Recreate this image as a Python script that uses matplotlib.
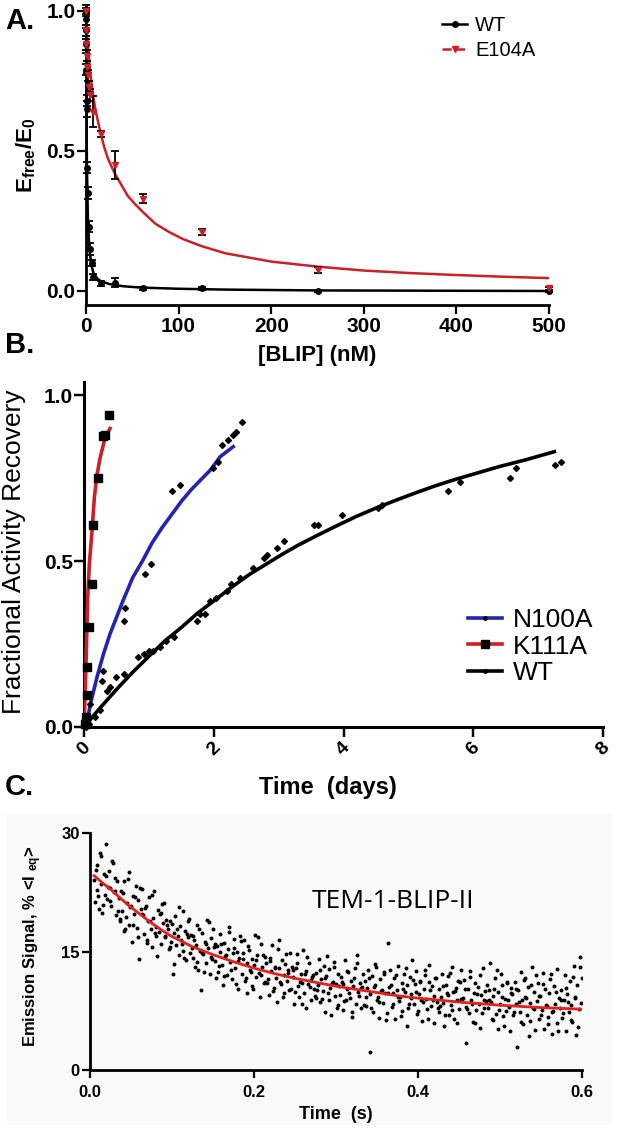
import matplotlib
matplotlib.use('Agg')
import matplotlib.pyplot as plt
from matplotlib.lines import Line2D
from matplotlib.patches import Rectangle

plt.rcParams['font.family'] = ['Liberation Sans', 'DejaVu Sans']
plt.rcParams['mathtext.fontset'] = 'custom'
plt.rcParams['mathtext.rm'] = 'Liberation Sans'
plt.rcParams['mathtext.bf'] = 'Liberation Sans:bold'
plt.rcParams['mathtext.it'] = 'Liberation Sans:italic'

# ---------------- Panel A data ----------------
A_xticks = [0, 100, 200, 300, 400, 500]
A_yticks = [0.0, 0.5, 1.0]
A_yticklabels = ['0.0', '0.5', '1.0']

WT_conc = [0, 0.1, 0.2, 0.3, 0.5, 0.75, 1, 1.5, 2, 3, 4, 6, 8, 16, 31, 62, 125, 250, 500]
WT_frac = [1.0, 0.97, 0.93, 0.88, 0.79, 0.68, 0.65, 0.44, 0.35, 0.23, 0.15, 0.10, 0.05,
           0.027, 0.03, 0.01, 0.01, 0.0, 0.0]
WT_err = [0.02, 0.03, 0.02, 0.03, 0.02, 0.02, 0.03, 0.02, 0.02, 0.02, 0.02, 0.01, 0.01,
          0.01, 0.015, 0.005, 0.005, 0.005, 0.005]
WT_fit_x = [0, 0.25, 0.5, 1, 1.5, 2, 3, 4, 6, 8, 12, 16, 25, 40, 60, 100, 150, 250, 500]
WT_fit_y = [1.0, 0.78, 0.62, 0.45, 0.35, 0.27, 0.19, 0.14, 0.09, 0.065, 0.045, 0.035,
            0.025, 0.017, 0.012, 0.008, 0.005, 0.002, 0.0]

E104A_conc = [0, 0.25, 0.5, 1, 1.5, 2, 3, 4, 8, 16, 31, 62, 125, 250, 500]
E104A_frac = [1.0, 0.93, 0.88, 0.84, 0.80, 0.77, 0.73, 0.70, 0.64, 0.56, 0.45, 0.33,
              0.21, 0.075, 0.01]
E104A_err = [0.01, 0.02, 0.02, 0.02, 0.02, 0.02, 0.02, 0.02, 0.055, 0.01, 0.05, 0.015,
             0.01, 0.01, 0.005]
E104A_fit_x = [0, 0.5, 1, 2, 3, 4, 5, 6, 8, 10, 12, 16, 20, 24, 31, 38, 45, 53, 62, 75,
               90, 105, 125, 150, 175, 200, 250, 300, 350, 400, 450, 500]
E104A_fit_y = [1.0, 0.96, 0.93, 0.88, 0.84, 0.80, 0.77, 0.74, 0.69, 0.65, 0.62, 0.56,
               0.51, 0.47, 0.42, 0.38, 0.34, 0.31, 0.28, 0.24, 0.21, 0.185, 0.16, 0.135,
               0.12, 0.105, 0.087, 0.073, 0.064, 0.057, 0.051, 0.046]

# ---------------- Panel B data ----------------
B_xticks = [0, 2, 4, 6, 8]
B_yticks = [0.0, 0.5, 1.0]
B_yticklabels = ['0.0', '0.5', '1.0']

K111A_t = [0.02, 0.03, 0.04, 0.04, 0.07, 0.12, 0.14, 0.21, 0.29, 0.33, 0.385]
K111A_y = [0.01, 0.03, 0.096, 0.18, 0.30, 0.43, 0.61, 0.75, 0.877, 0.88, 0.94]
K111A_fit_t = [0.0, 0.031, 0.057, 0.082, 0.123, 0.159, 0.195, 0.247, 0.314, 0.40]
K111A_fit_y = [0.0, 0.19, 0.39, 0.49, 0.59, 0.69, 0.754, 0.81, 0.864, 0.90]

N100A_t = [0.02, 0.05, 0.1, 0.27, 0.3, 0.61, 0.63, 0.94, 1.04, 1.35, 1.48, 1.99, 2.07,
           2.12, 2.22, 2.29, 2.35, 2.43]
N100A_y = [0.01, 0.016, 0.07, 0.14, 0.17, 0.32, 0.36, 0.46, 0.49, 0.71, 0.73, 0.78, 0.80,
           0.85, 0.865, 0.88, 0.89, 0.92]
N100A_fit_t = [0.05, 0.1, 0.15, 0.2, 0.3, 0.4, 0.5, 0.6, 0.75, 0.9, 1.05, 1.2, 1.35, 1.5,
               1.65, 1.8, 1.95, 2.1, 2.3]
N100A_fit_y = [0.02, 0.07, 0.11, 0.15, 0.22, 0.28, 0.33, 0.38, 0.45, 0.50, 0.555, 0.60,
               0.64, 0.68, 0.715, 0.745, 0.775, 0.815, 0.845]

WTB_t = [0.03, 0.08, 0.17, 0.25, 0.35, 0.4, 0.5, 0.61, 0.84, 0.92,
         1.0, 1.07, 1.17, 1.27, 1.38, 1.74, 1.79, 1.86, 1.94, 2.04,
         2.2, 2.27, 2.4, 2.61, 2.77, 2.82, 2.98, 3.08, 3.54, 3.6,
         3.97, 4.53, 4.6, 5.61, 5.79, 6.56, 6.66, 7.26, 7.36]
WTB_y = [0.0, 0.01, 0.03, 0.05, 0.11, 0.12, 0.15, 0.16, 0.21, 0.22,
         0.23, 0.23, 0.24, 0.26, 0.27, 0.32, 0.34, 0.34, 0.38, 0.39,
         0.41, 0.43, 0.45, 0.48, 0.51, 0.52, 0.54, 0.56, 0.61, 0.61,
         0.64, 0.66, 0.67, 0.71, 0.74, 0.75, 0.78, 0.79, 0.80]
WTB_fit_t = [0.0, 0.25, 0.5, 0.75, 1.0, 1.25, 1.5, 1.75, 2.0, 2.3, 2.55, 2.8, 3.05, 3.3,
             3.6, 3.9, 4.2, 4.5, 4.8, 5.1, 5.4, 5.7, 6.05, 6.4, 6.8, 7.25]
WTB_fit_y = [0.0, 0.058, 0.113, 0.165, 0.213, 0.26, 0.30, 0.343, 0.38, 0.425, 0.46, 0.49,
             0.52, 0.548, 0.578, 0.607, 0.635, 0.66, 0.683, 0.705, 0.726, 0.745, 0.765,
             0.785, 0.805, 0.83]

# ---------------- Panel C data ----------------
C_xticks = [0.0, 0.2, 0.4, 0.6]
C_xticklabels = ['0.0', '0.2', '0.4', '0.6']
C_yticks = [0, 15, 30]

C_time_ms = [
    [5, 6, 8, 9, 11, 12, 14, 15, 17, 18, 20, 21, 23, 24, 26, 27, 29, 30, 32, 33],
    [35, 36, 38, 39, 41, 42, 44, 45, 47, 48, 50, 51, 53, 54, 56, 57, 59, 60, 62, 63],
    [65, 66, 68, 69, 71, 72, 74, 75, 77, 78, 80, 81, 83, 84, 86, 87, 89, 90, 92, 93],
    [95, 96, 98, 99, 101, 102, 104, 105, 107, 108, 110, 111, 113, 114, 116, 117, 119, 120, 122, 123],
    [125, 126, 128, 129, 131, 132, 134, 135, 137, 138, 140, 141, 143, 144, 146, 147, 149, 150, 152, 153],
    [155, 156, 158, 159, 161, 162, 164, 165, 167, 168, 170, 171, 173, 174, 176, 177, 179, 180, 182, 183],
    [185, 186, 188, 189, 191, 192, 194, 195, 197, 198, 200, 201, 203, 204, 206, 207, 209, 210, 212, 213],
    [215, 216, 218, 219, 221, 222, 224, 225, 227, 228, 230, 231, 233, 234, 236, 237, 239, 240, 242, 243],
    [245, 246, 248, 249, 251, 252, 254, 255, 257, 258, 260, 261, 263, 264, 266, 267, 269, 270, 272, 273],
    [275, 276, 278, 279, 281, 282, 284, 285, 287, 288, 290, 291, 293, 294, 296, 297, 299, 300, 302, 303],
    [305, 306, 308, 309, 311, 312, 314, 315, 317, 318, 320, 321, 323, 324, 326, 327, 329, 330, 332, 333],
    [335, 336, 338, 339, 341, 342, 344, 345, 347, 348, 350, 351, 353, 354, 356, 357, 359, 360, 362, 363],
    [365, 366, 368, 369, 371, 372, 374, 375, 377, 378, 380, 381, 383, 384, 386, 387, 389, 390, 392, 393],
    [395, 396, 398, 399, 401, 402, 404, 405, 407, 408, 410, 411, 413, 414, 416, 417, 419, 420, 422, 423],
    [425, 426, 428, 429, 431, 432, 434, 435, 437, 438, 440, 441, 443, 444, 446, 447, 449, 450, 452, 453],
    [455, 456, 458, 459, 461, 462, 464, 465, 467, 468, 470, 471, 473, 474, 476, 477, 479, 480, 482, 483],
    [485, 486, 488, 489, 491, 492, 494, 495, 497, 498, 500, 501, 503, 504, 506, 507, 509, 510, 512, 513],
    [515, 516, 518, 519, 521, 522, 524, 525, 527, 528, 530, 531, 533, 534, 536, 537, 539, 540, 542, 543],
    [545, 546, 548, 549, 551, 552, 554, 555, 557, 558, 560, 561, 563, 564, 566, 567, 569, 570, 572, 573],
    [575, 576, 578, 579, 581, 582, 584, 585, 587, 588, 590, 591, 593, 594, 596, 597, 599, 600],
]
C_signal = [
    [24.1, 21.3, 26.0, 22.8, 20.4, 27.5, 23.6, 19.9, 24.8, 22.1, 28.6, 21.7, 25.2, 23.0, 20.8, 26.4, 22.5, 24.3, 19.6, 23.9],
    [21.8, 18.9, 22.6, 20.1, 17.6, 23.9, 19.4, 21.2, 25.1, 18.3, 20.7, 16.2, 22.0, 19.8, 23.3, 18.0, 21.5, 14.1, 20.4, 22.9],
    [19.6, 17.2, 20.8, 16.5, 18.9, 21.9, 17.8, 15.6, 19.3, 22.7, 18.1, 16.9, 20.2, 17.5, 19.9, 15.9, 18.6, 21.1, 16.8, 19.0],
    [17.9, 15.3, 18.8, 16.2, 12.1, 17.4, 19.5, 15.8, 16.9, 14.6, 18.2, 16.5, 20.1, 15.1, 17.6, 13.9, 16.8, 18.9, 14.8, 17.1],
    [14.2, 16.9, 13.0, 15.8, 18.4, 12.6, 15.1, 10.1, 17.3, 14.7, 16.2, 13.5, 19.0, 15.5, 12.1, 16.7, 14.0, 17.8, 13.8, 15.9],
    [15.7, 12.4, 14.9, 17.2, 13.3, 10.8, 16.1, 14.4, 12.0, 15.3, 18.1, 13.7, 11.5, 14.8, 16.6, 12.9, 15.0, 10.3, 14.2, 17.0],
    [12.1, 14.8, 16.5, 11.3, 13.6, 9.7, 15.2, 12.7, 14.0, 10.6, 13.3, 17.1, 11.8, 14.5, 12.3, 9.2, 15.9, 13.0, 11.0, 14.3],
    [13.6, 11.0, 9.5, 14.2, 12.5, 15.8, 10.4, 13.1, 11.7, 8.6, 12.9, 16.4, 10.9, 13.9, 12.0, 9.8, 14.7, 11.3, 12.7, 10.1],
    [10.2, 13.1, 11.8, 8.4, 12.9, 14.7, 10.6, 9.3, 12.2, 11.0, 15.2, 9.8, 7.9, 12.5, 10.9, 13.6, 11.4, 8.8, 12.0, 10.3],
    [12.3, 9.1, 10.7, 14.1, 8.6, 11.5, 10.0, 13.2, 7.4, 11.9, 9.7, 12.8, 10.4, 6.9, 11.2, 13.7, 9.4, 10.9, 12.1, 8.2],
    [9.5, 11.8, 7.6, 10.9, 13.9, 8.8, 10.2, 12.4, 9.1, 11.3, 6.7, 10.6, 12.9, 8.3, 14.6, 9.9, 11.0, 7.9, 10.5, 12.2],
    [11.3, 8.1, 10.4, 12.7, 2.3, 9.6, 11.9, 7.4, 10.8, 13.4, 8.9, 9.2, 6.6, 11.5, 10.1, 8.5, 12.2, 9.8, 7.2, 16.1],
    [10.5, 12.6, 8.0, 9.7, 11.6, 6.4, 10.1, 13.2, 8.7, 9.3, 11.0, 7.5, 12.1, 9.9, 5.6, 10.7, 8.4, 11.8, 9.1, 13.9],
    [8.4, 10.9, 12.5, 7.1, 9.6, 11.3, 8.8, 6.2, 10.2, 12.0, 9.0, 7.7, 11.1, 13.3, 8.1, 10.6, 5.9, 9.4, 11.7, 8.6],
    [10.2, 7.4, 9.3, 12.1, 8.5, 5.6, 10.8, 9.7, 11.9, 7.0, 8.2, 13.0, 9.9, 6.5, 10.4, 8.8, 11.3, 7.7, 9.0, 12.6],
    [9.1, 11.4, 3.4, 8.0, 10.3, 7.2, 12.5, 8.9, 6.1, 9.8, 11.0, 7.6, 10.5, 8.4, 5.3, 9.5, 12.9, 7.9, 10.0, 8.7],
    [7.8, 10.1, 13.5, 8.6, 6.3, 9.4, 11.6, 7.1, 9.9, 5.2, 8.3, 12.2, 10.7, 6.8, 9.0, 7.5, 11.1, 8.9, 4.9, 10.4],
    [9.6, 6.9, 11.2, 8.3, 2.9, 10.1, 7.4, 12.4, 8.8, 5.8, 9.3, 11.7, 7.0, 10.5, 6.2, 8.5, 13.1, 7.8, 9.9, 5.1],
    [8.7, 11.0, 6.4, 9.4, 7.6, 12.3, 5.2, 10.2, 8.1, 6.7, 9.8, 11.5, 7.3, 4.6, 10.6, 8.4, 12.8, 6.0, 9.1, 7.9],
    [10.1, 6.6, 8.9, 12.0, 5.0, 9.6, 7.4, 11.3, 8.2, 6.1, 13.2, 9.3, 4.4, 10.8, 7.7, 14.3, 8.5, 11.6],
]
# second interleaved set of samples
C_time2_ms = [
    [7, 10, 13, 16, 19, 22, 25, 28, 31, 34],
    [37, 40, 43, 46, 49, 52, 55, 58, 61, 64],
    [67, 70, 73, 76, 79, 82, 85, 88, 91, 94],
    [97, 100, 103, 106, 109, 112, 115, 118, 121, 124],
    [127, 130, 133, 136, 139, 142, 145, 148, 151, 154],
    [157, 160, 163, 166, 169, 172, 175, 178, 181, 184],
    [187, 190, 193, 196, 199, 202, 205, 208, 211, 214],
    [217, 220, 223, 226, 229, 232, 235, 238, 241, 244],
    [247, 250, 253, 256, 259, 262, 265, 268, 271, 274],
    [277, 280, 283, 286, 289, 292, 295, 298, 301, 304],
    [307, 310, 313, 316, 319, 322, 325, 328, 331, 334],
    [337, 340, 343, 346, 349, 352, 355, 358, 361, 364],
    [367, 370, 373, 376, 379, 382, 385, 388, 391, 394],
    [397, 400, 403, 406, 409, 412, 415, 418, 421, 424],
    [427, 430, 433, 436, 439, 442, 445, 448, 451, 454],
    [457, 460, 463, 466, 469, 472, 475, 478, 481, 484],
    [487, 490, 493, 496, 499, 502, 505, 508, 511, 514],
    [517, 520, 523, 526, 529, 532, 535, 538, 541, 544],
    [547, 550, 553, 556, 559, 562, 565, 568, 571, 574],
    [577, 580, 583, 586, 589, 592, 595, 598],
]
C_signal2 = [
    [25.3, 22.0, 27.1, 20.9, 24.5, 23.2, 21.4, 26.2, 22.7, 20.1],
    [19.1, 22.4, 17.9, 24.2, 20.6, 18.4, 21.9, 16.8, 23.0, 19.7],
    [20.5, 16.1, 18.8, 22.2, 17.3, 14.4, 19.7, 21.0, 17.0, 18.3],
    [15.6, 18.5, 13.4, 17.8, 20.6, 16.0, 14.2, 17.2, 19.1, 15.4],
    [16.5, 13.7, 17.9, 14.8, 12.4, 16.0, 18.7, 14.3, 15.6, 11.6],
    [13.2, 15.9, 11.9, 14.6, 17.5, 12.7, 15.4, 10.9, 13.8, 16.3],
    [14.0, 11.6, 15.7, 12.4, 10.2, 13.9, 16.8, 12.0, 14.6, 11.2],
    [11.5, 13.8, 10.0, 12.9, 15.3, 11.1, 9.2, 13.4, 12.3, 14.8],
    [12.7, 9.9, 13.5, 11.2, 8.3, 12.1, 14.3, 10.5, 11.8, 9.4],
    [10.1, 12.6, 9.0, 11.6, 14.4, 8.8, 11.0, 13.1, 7.9, 10.6],
    [11.2, 8.7, 12.5, 9.8, 7.3, 11.7, 13.5, 9.4, 10.4, 8.2],
    [9.3, 11.6, 7.8, 10.5, 13.0, 8.6, 10.0, 12.4, 6.3, 9.7],
    [10.8, 8.3, 12.0, 9.2, 6.8, 10.3, 12.9, 7.9, 9.6, 11.4],
    [9.9, 7.5, 11.2, 8.6, 12.7, 6.5, 10.1, 8.9, 11.6, 7.8],
    [8.1, 10.6, 6.9, 9.5, 12.3, 7.6, 10.0, 5.9, 11.1, 8.7],
    [10.2, 7.7, 11.8, 8.3, 6.0, 9.6, 12.0, 7.2, 8.9, 10.7],
    [8.9, 6.4, 10.3, 12.6, 7.6, 9.2, 5.6, 11.0, 8.0, 9.7],
    [7.3, 10.2, 8.6, 6.1, 11.4, 9.1, 4.3, 10.8, 7.7, 12.0],
    [9.4, 6.9, 10.9, 8.2, 5.8, 12.1, 7.5, 9.9, 4.9, 8.8],
    [7.2, 10.4, 8.6, 6.3, 11.8, 9.1, 5.5, 13.1],
]
C_fit_t = [0.005, 0.015, 0.025, 0.0375, 0.05, 0.0625, 0.075, 0.0875, 0.1, 0.125, 0.15,
           0.175, 0.2, 0.225, 0.25, 0.275, 0.3, 0.325, 0.35, 0.375, 0.4, 0.45, 0.5, 0.55, 0.6]
C_fit_y = [24.6, 23.7, 22.9, 21.7, 20.6, 19.6, 18.6, 17.7, 16.9, 15.6, 14.6, 13.7, 12.9,
           12.2, 11.6, 11.1, 10.6, 10.2, 9.8, 9.4, 9.1, 8.6, 8.2, 7.9, 7.7]

RED = '#cc1f26'
BLUE = '#2424b0'

W, H = 617, 1128
fig = plt.figure(figsize=(W / 100, H / 100), dpi=100)


def ax_px(l, t, r, b):
    return fig.add_axes([l / W, 1 - b / H, (r - l) / W, (b - t) / H])


def prism(ax, lw=2.0, tlen=6.5):
    for s in ['top', 'right']:
        ax.spines[s].set_visible(False)
    for s in ['left', 'bottom']:
        ax.spines[s].set_linewidth(lw)
    ax.tick_params(direction='out', length=tlen, width=lw * 0.8)


# light background of the pasted panel C
fig.patches.append(Rectangle((7 / W, 1 - 1125 / H), (612 - 7) / W, (1125 - 813) / H,
                             transform=fig.transFigure, facecolor='#f9f9f9',
                             edgecolor='none', zorder=-5))

# ================= Panel A =================
axA = ax_px(86, 5, 549, 305)
prism(axA)
axA.set_xlim(0, 500)
axA.set_ylim(-0.05, 1.021)
axA.plot(WT_fit_x, WT_fit_y, color='black', lw=1.8, zorder=3)
axA.plot(E104A_fit_x, E104A_fit_y, color=RED, lw=1.8, zorder=3)
axA.errorbar(WT_conc, WT_frac, yerr=WT_err, fmt='o', ms=4, color='black',
             ecolor='black', elinewidth=1.3, capsize=3, capthick=1.3, clip_on=False, zorder=4)
axA.errorbar(E104A_conc, E104A_frac, yerr=E104A_err, fmt='v', ms=4.5, mfc=RED, mec=RED,
             ecolor='black', elinewidth=1.3, capsize=3, capthick=1.3, clip_on=False, zorder=5)
axA.set_xticks(A_xticks)
axA.set_yticks(A_yticks)
axA.set_yticklabels(A_yticklabels)
for lab in axA.get_xticklabels() + axA.get_yticklabels():
    lab.set_fontsize(15)
    lab.set_fontweight('bold')
axA.tick_params(axis='y', pad=1)
axA.tick_params(axis='x', pad=2)
axA.set_xlabel('[BLIP] (nM)', fontsize=16, fontweight='bold')
axA.xaxis.set_label_coords(0.5, -(345 - 305) / 300)
axA.set_ylabel(r'$\mathbf{E_{free}/E_0}$', fontsize=16)
axA.yaxis.set_label_coords((26 - 86) / 463, 0.5)
axA.yaxis.label.set_va('center')
hA = [Line2D([], [], color='black', lw=1.8, marker='o', ms=4),
      Line2D([], [], color=RED, lw=1.8, ls='--', marker='v', ms=4.5)]
axA.legend(hA, ['WT', 'E104A'], loc='upper left', bbox_to_anchor=(442 / W, 1 - 16 / H),
           bbox_transform=fig.transFigure, frameon=False, fontsize=14.5,
           handlelength=1.25, handletextpad=0.4, labelspacing=0.3,
           borderpad=0, borderaxespad=0)

# ================= Panel B =================
axB = ax_px(84, 382, 603, 727)
prism(axB, lw=2.2, tlen=7)
axB.set_xlim(0, 8)
axB.set_ylim(0, 1.04)
axB.plot(WTB_fit_t, WTB_fit_y, color='black', lw=2.6, zorder=3)
axB.plot(N100A_fit_t, N100A_fit_y, color=BLUE, lw=2.6, zorder=3)
axB.plot(K111A_fit_t, K111A_fit_y, color=RED, lw=2.6, zorder=3)
axB.plot(WTB_t, WTB_y, ls='none', marker='D', ms=3, color='black', clip_on=False, zorder=4)
axB.plot(N100A_t, N100A_y, ls='none', marker='D', ms=3, color='black', clip_on=False, zorder=4)
axB.plot(K111A_t, K111A_y, ls='none', marker='s', ms=5.5, color='black', clip_on=False, zorder=5)
axB.set_xticks(B_xticks)
axB.set_yticks(B_yticks)
axB.set_yticklabels(B_yticklabels)
for lab in axB.get_yticklabels():
    lab.set_fontsize(15)
    lab.set_fontweight('bold')
for lab in axB.get_xticklabels():
    lab.set_fontsize(14)
    lab.set_fontweight('bold')
    lab.set_rotation(45)
axB.tick_params(axis='y', pad=1)
axB.tick_params(axis='x', pad=2)
axB.set_xlabel('Time  (days)', fontsize=17, fontweight='bold')
axB.xaxis.set_label_coords((328 - 84) / 519, -(776 - 727) / 345)
axB.set_ylabel('Fractional Activity Recovery', fontsize=19)
axB.yaxis.set_label_coords((14 - 84) / 519, 0.507)
axB.yaxis.label.set_va('center')
hB = [Line2D([], [], color=BLUE, lw=2.6, marker='.', ms=5, mfc='black', mec='black'),
      Line2D([], [], color=RED, lw=2.6, marker='s', ms=5.5, mfc='black', mec='black'),
      Line2D([], [], color='black', lw=2.6, marker='.', ms=5)]
axB.legend(hB, ['N100A', 'K111A', 'WT'], loc='upper left',
           bbox_to_anchor=(468 / W, 1 - 608 / H), bbox_transform=fig.transFigure,
           frameon=False, fontsize=19, handlelength=1.3, handletextpad=0.4,
           labelspacing=0.1, borderpad=0, borderaxespad=0)

# ================= Panel C =================
axC = ax_px(90, 833, 582, 1070)
axC.set_facecolor('none')
prism(axC, lw=2.0, tlen=5.5)
axC.set_xlim(0, 0.6)
axC.set_ylim(0, 30)
for row_t, row_y in zip(C_time_ms + C_time2_ms, C_signal + C_signal2):
    axC.scatter([t / 1000 for t in row_t], row_y, s=8, color='black', linewidths=0, zorder=3)
axC.plot(C_fit_t, C_fit_y, color='#e3201b', lw=2, zorder=4)
axC.set_xticks(C_xticks)
axC.set_xticklabels(C_xticklabels)
axC.set_yticks(C_yticks)
for lab in axC.get_xticklabels() + axC.get_yticklabels():
    lab.set_fontsize(12)
    lab.set_fontweight('bold')
axC.tick_params(axis='y', pad=2)
axC.tick_params(axis='x', pad=5)
axC.set_xlabel('Time  (s)', fontsize=13, fontweight='bold')
axC.xaxis.set_label_coords(0.5, -(1106 - 1070) / 237)
axC.set_ylabel(r'Emission Signal, % <I $_{\mathbf{eq}}$>', fontsize=12, fontweight='bold')
axC.yaxis.set_label_coords((33 - 90) / 492, 0.523)
axC.yaxis.label.set_va('center')
axC.text((312 - 90) / 492, (1070 - 901) / 237, 'TEM-1-BLIP-II', transform=axC.transAxes,
         fontsize=19, family=['Open Sans', 'DejaVu Sans'], va='center', ha='left')

# panel letters
fig.text(5 / W, 1 - 21 / H, 'A.', fontsize=21, fontweight='bold', va='center')
fig.text(5 / W, 1 - 345 / H, 'B.', fontsize=21, fontweight='bold', va='center')
fig.text(5 / W, 1 - 787 / H, 'C.', fontsize=21, fontweight='bold', va='center')

fig.savefig('out.png', dpi=100)
